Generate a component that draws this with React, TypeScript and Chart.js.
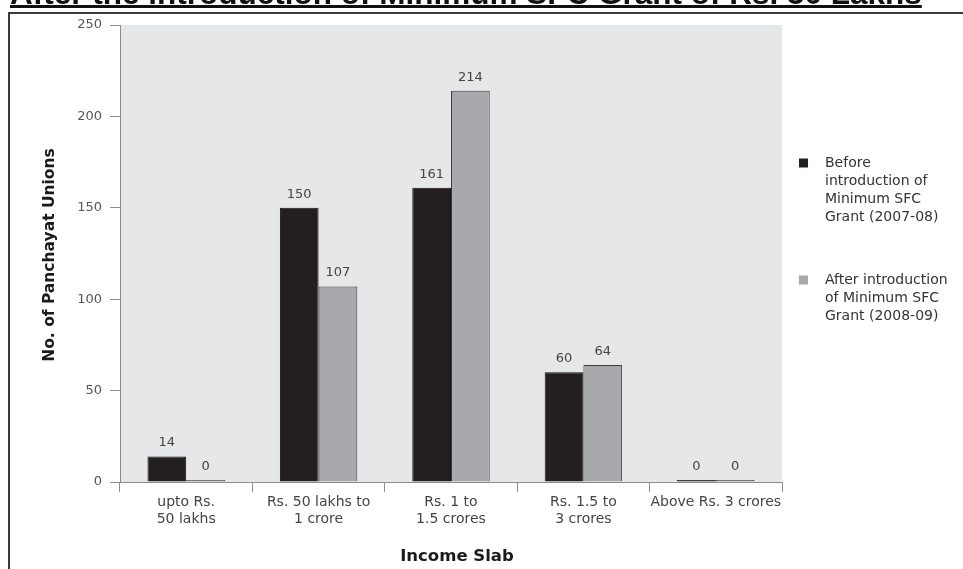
import React, { useEffect, useRef } from "react";
import { Chart, registerables } from "chart.js";

Chart.register(...registerables);

const titleText = "After the introduction of Minimum SFC Grant of Rs. 50 Lakhs";
const categories: (string | string[])[] = [
  ["upto Rs.", "50 lakhs"],
  ["Rs. 50 lakhs to", "1 crore"],
  ["Rs. 1 to", "1.5 crores"],
  ["Rs. 1.5 to", "3 crores"],
  "Above Rs. 3 crores",
];
const beforeValues = [14, 150, 161, 60, 0];
const afterValues = [0, 107, 214, 64, 0];
const beforeLegend = ["Before", "introduction of", "Minimum SFC", "Grant (2007-08)"];
const afterLegend = ["After introduction", "of Minimum SFC", "Grant (2008-09)"];
const yTitle = "No. of Panchayat Unions";
const xTitle = "Income Slab";
const yMin = 0;
const yMax = 250;
const yStep = 50;

const BLACK = "#231f20";
const GREY = "#a7a9ac";
const AXIS = "#8c8c8c";
const FONT = "'DejaVu Sans', Verdana, sans-serif";

const decorPlugin = {
  id: "decor",
  beforeDraw(chart: any) {
    const { ctx, chartArea } = chart;
    ctx.save();
    ctx.fillStyle = "#ffffff";
    ctx.fillRect(0, 0, chart.width, chart.height);
    ctx.fillStyle = "#e6e7e8";
    ctx.fillRect(chartArea.left, chartArea.top, chartArea.right - chartArea.left, chartArea.bottom - chartArea.top);
    ctx.fillStyle = "#111111";
    ctx.font = "bold 31.5px 'Liberation Sans', Arial, sans-serif";
    ctx.textBaseline = "alphabetic";
    ctx.textAlign = "left";
    ctx.fillText(titleText, 10, 4);
    const w = ctx.measureText(titleText).width;
    ctx.fillRect(10, 5, w, 3);
    ctx.strokeStyle = "#3a3a3a";
    ctx.lineWidth = 2;
    ctx.beginPath();
    ctx.moveTo(9, 569);
    ctx.lineTo(9, 13);
    ctx.lineTo(963, 13);
    ctx.stroke();
    ctx.restore();
  },
  afterDraw(chart: any) {
    const { ctx, chartArea } = chart;
    ctx.save();
    ctx.fillStyle = "#1a1a1a";
    ctx.font = "bold 15.5px " + FONT;
    ctx.textAlign = "center";
    ctx.textBaseline = "middle";
    ctx.save();
    ctx.translate(50, 255);
    ctx.rotate(-Math.PI / 2);
    ctx.fillText(yTitle, 0, 0);
    ctx.restore();
    ctx.font = "bold 16.5px " + FONT;
    ctx.fillText(xTitle, 457, 557);
    const items = [
      { color: BLACK, lines: beforeLegend, y: 163 },
      { color: GREY, lines: afterLegend, y: 280 },
    ];
    ctx.font = "14px " + FONT;
    ctx.textAlign = "left";
    items.forEach((it) => {
      ctx.fillStyle = it.color;
      ctx.fillRect(799, it.y - 4.5, 9, 9);
      ctx.fillStyle = "#333333";
      it.lines.forEach((ln, i) => ctx.fillText(ln, 825, it.y + i * 18));
    });
    ctx.fillStyle = "#444444";
    ctx.font = "13px " + FONT;
    ctx.textAlign = "center";
    ctx.textBaseline = "alphabetic";
    chart.data.datasets.forEach((ds: any, di: number) => {
      const meta = chart.getDatasetMeta(di);
      meta.data.forEach((el: any, i: number) => {
        ctx.fillText(String(ds.data[i]), el.x, el.y - 10);
      });
    });
    ctx.restore();
  },
};

export default function App() {
  const ref = useRef<HTMLCanvasElement | null>(null);
  useEffect(() => {
    if (!ref.current) return;
    const chart = new Chart(ref.current, {
      type: "bar",
      data: {
        labels: categories,
        datasets: [
          {
            label: beforeLegend.join(" "),
            data: beforeValues,
            backgroundColor: BLACK,
            borderColor: "#161314",
            borderWidth: 1,
            minBarLength: 2,
            categoryPercentage: 0.585,
            barPercentage: 1,
          },
          {
            label: afterLegend.join(" "),
            data: afterValues,
            backgroundColor: GREY,
            borderColor: "#3c3c3c",
            borderWidth: 1,
            minBarLength: 2,
            categoryPercentage: 0.585,
            barPercentage: 1,
          },
        ],
      },
      options: {
        responsive: false,
        animation: false,
        devicePixelRatio: 1,
        layout: { padding: { left: 0, right: 181, top: 25, bottom: 0 } },
        plugins: { legend: { display: false }, tooltip: { enabled: false }, title: { display: false } },
        scales: {
          x: {
            grid: { display: true, drawOnChartArea: false, drawTicks: true, tickLength: 10, color: AXIS, offset: true },
            border: { display: true, color: AXIS, width: 1 },
            ticks: {
              color: "#444444",
              font: { family: FONT, size: 14, lineHeight: 1.2 },
              padding: 2,
              maxRotation: 0,
              autoSkip: false,
            },
            afterFit: (s: any) => {
              s.height = 87;
            },
          },
          y: {
            min: yMin,
            max: yMax,
            grid: { display: true, drawOnChartArea: false, drawTicks: true, tickLength: 10, color: AXIS },
            border: { display: true, color: AXIS, width: 1 },
            ticks: {
              stepSize: yStep,
              color: "#555555",
              font: { family: FONT, size: 13 },
              padding: 8,
            },
            afterFit: (s: any) => {
              s.width = 120;
            },
          },
        },
      },
      plugins: [decorPlugin],
    });
    return () => chart.destroy();
  }, []);
  return (
    <div style={{ position: "fixed", left: 0, top: 0, width: 963, height: 569, background: "#fff" }}>
      <canvas ref={ref} width={963} height={569} style={{ width: 963, height: 569, display: "block" }} />
    </div>
  );
}
